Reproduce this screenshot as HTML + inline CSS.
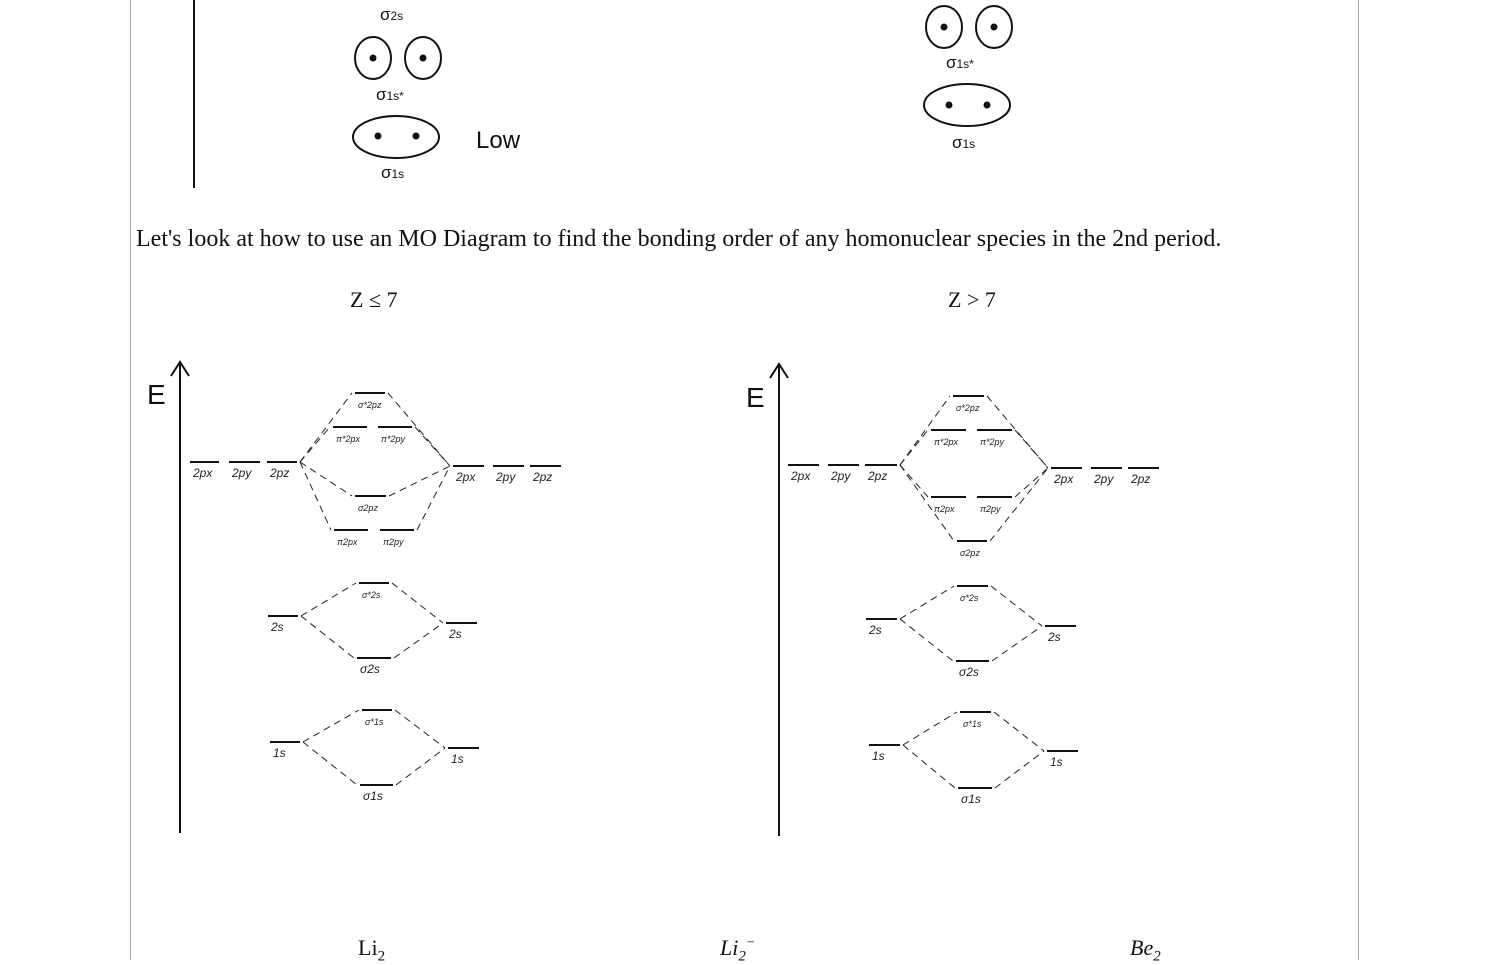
<!DOCTYPE html>
<html><head><meta charset="utf-8"><style>
body{margin:0;width:1488px;height:960px;background:#fff;overflow:hidden;font-family:"Liberation Serif",serif;position:relative}
.t{position:absolute;color:#111;white-space:nowrap}
</style></head><body>
<div style="position:absolute;left:130px;top:0;width:1px;height:960px;background:#aaa"></div>
<div style="position:absolute;left:1358px;top:0;width:1px;height:960px;background:#aaa"></div>
<svg id="s" width="1488" height="960" style="position:absolute;left:0;top:0" font-family="Liberation Sans, sans-serif">
<g stroke="#111" stroke-width="2" fill="none">
<line x1="194" y1="0" x2="194" y2="188"/>
<ellipse cx="373" cy="58" rx="18" ry="21"/><ellipse cx="423" cy="58" rx="18" ry="21"/>
<ellipse cx="396" cy="137" rx="43" ry="21"/>
<circle cx="373" cy="58" r="2.5" fill="#111"/><circle cx="423" cy="58" r="2.5" fill="#111"/>
<circle cx="378" cy="136" r="2.5" fill="#111"/><circle cx="416" cy="136" r="2.5" fill="#111"/>
</g>
<g fill="#111" font-size="17">
<text x="380" y="20">σ<tspan font-size="12">2s</tspan></text>
<text x="376" y="100">σ<tspan font-size="12">1s*</tspan></text>
<text x="381" y="178">σ<tspan font-size="12">1s</tspan></text>
<text x="476" y="148" font-size="24">Low</text>
<text x="946" y="68">σ<tspan font-size="12">1s*</tspan></text>
<text x="952" y="148">σ<tspan font-size="12">1s</tspan></text>
</g>
<g stroke="#111" stroke-width="2" fill="none">
<ellipse cx="944" cy="27" rx="18" ry="21"/><ellipse cx="994" cy="27" rx="18" ry="21"/>
<ellipse cx="967" cy="105" rx="43" ry="21"/>
<circle cx="944" cy="27" r="2.5" fill="#111"/><circle cx="994" cy="27" r="2.5" fill="#111"/>
<circle cx="949" cy="105" r="2.5" fill="#111"/><circle cx="987" cy="105" r="2.5" fill="#111"/>
</g>
</svg>
<div class="t" style="left:136px;top:226px;font-size:24px">Let's look at how to use an MO Diagram to find the bonding order of any homonuclear species in the 2nd period.</div>
<div class="t" style="left:350px;top:287px;font-size:22px">Z ≤ 7</div>
<div class="t" style="left:948px;top:287px;font-size:22px">Z &gt; 7</div>
<div class="t" style="left:358px;top:935px;font-size:22px">Li<sub style="font-size:15px">2</sub></div>
<div class="t" style="left:720px;top:935px;font-size:22px;font-style:italic">Li<sub style="font-size:15px">2</sub><sup style="font-size:14px">−</sup></div>
<div class="t" style="left:1130px;top:935px;font-size:22px;font-style:italic">Be<sub style="font-size:15px">2</sub></div>
<script>
const NS="http://www.w3.org/2000/svg",svg=document.getElementById('s');
const d1=[["l2px",190,219,462,"2px"],["l2py",229,260,462,"2py"],["l2pz",267,297,462,"2pz"],
["r2px",453,484,466,"2px"],["r2py",493,524,466,"2py"],["r2pz",530,561,466,"2pz"],
["s2pstar",355,385,393,"σ*2pz"],["p2pxstar",333,367,427,"π*2px"],["p2pystar",378,412,427,"π*2py"],
["s2p",355,386,496,"σ2pz"],["p2px",334,368,530,"π2px"],["p2py",380,414,530,"π2py"],
["l2s",268,298,616,"2s"],["r2s",446,477,623,"2s"],["s2sstar",359,389,583,"σ*2s"],["s2s",357,391,658,"σ2s"],
["l1s",270,300,742,"1s"],["r1s",448,479,748,"1s"],["s1sstar",362,392,710,"σ*1s"],["s1s",360,393,785,"σ1s"]];
const d2=[["l2px",788,819,465,"2px"],["l2py",828,859,465,"2py"],["l2pz",865,897,465,"2pz"],
["r2px",1051,1082,468,"2px"],["r2py",1091,1122,468,"2py"],["r2pz",1128,1159,468,"2pz"],
["s2pstar",953,984,396,"σ*2pz"],["p2pxstar",931,966,430,"π*2px"],["p2pystar",977,1012,430,"π*2py"],
["p2px",931,966,497,"π2px"],["p2py",977,1012,497,"π2py"],["s2p",957,987,541,"σ2pz"],
["l2s",866,897,619,"2s"],["r2s",1045,1076,626,"2s"],["s2sstar",957,988,586,"σ*2s"],["s2s",956,989,661,"σ2s"],
["l1s",869,900,745,"1s"],["r1s",1047,1078,751,"1s"],["s1sstar",960,991,712,"σ*1s"],["s1s",958,992,788,"σ1s"]];
const links=[["l2pz","s2pstar","s2pstar","r2px"],["l2pz","p2pxstar","p2pystar","r2px"],["l2pz","s2p","s2p","r2px"],["l2pz","p2px","p2py","r2px"],
["l2s","s2sstar","s2sstar","r2s"],["l2s","s2s","s2s","r2s"],["l1s","s1sstar","s1sstar","r1s"],["l1s","s1s","s1s","r1s"]];
function el(t,a){const e=document.createElementNS(NS,t);for(const k in a)e.setAttribute(k,a[k]);svg.appendChild(e);return e;}
function draw(d,ax,ay1,ay2,ex,ey,tag){
 const a=el('line',{x1:ax,y1:ay2,x2:ax,y2:ay1,stroke:'#111','stroke-width':2});
 
 
 el('path',{d:`M${ax-9} ${ay1+14} L${ax} ${ay1} L${ax+9} ${ay1+14}`,stroke:'#111','stroke-width':2,fill:'none'});
 const E=el('text',{x:ex,y:ey,'font-size':28,fill:'#111'});E.textContent='E';
 
 
 const m={};
 d.forEach(l=>{m[l[0]]=l;
  const ln=el('line',{x1:l[1],y1:l[3],x2:l[2],y2:l[3],stroke:'#111','stroke-width':2});
  
  
  const tx=el('text',{x:l[1]+3,y:l[3]+15,'font-size':l[4].length>3?9:12,fill:'#222','font-style':'italic'});tx.textContent=l[4];
 });
 links.forEach(k=>{const L=m[k[0]],M=m[k[1]],N=m[k[2]],R=m[k[3]];
  const s=`M${L[2]+3} ${L[3]} L${M[1]-3} ${M[3]} M${N[2]+3} ${N[3]} L${R[1]-3} ${R[3]}`;
  el('path',{d:s,stroke:'#222','stroke-width':1,fill:'none','stroke-dasharray':'7 5'});
 });
}
draw(d1,180,362,833,147,404,'diagram-z-le-7');
draw(d2,779,364,836,746,407,'diagram-z-gt-7');
</script>
</body></html>
